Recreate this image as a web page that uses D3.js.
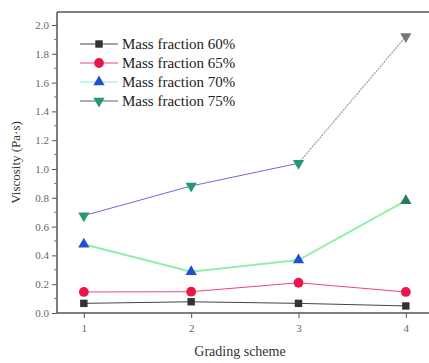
<!DOCTYPE html>
<html><head><meta charset="utf-8">
<script src="https://cdn.jsdelivr.net/npm/d3@7"></script>
<style>body{margin:0;background:#fff}svg{display:block}svg text{font-family:"Liberation Serif","Times New Roman",serif}</style>
</head><body>
<script>
const categories = [1, 2, 3, 4];
const seriesNames = ["Mass fraction 60%", "Mass fraction 65%", "Mass fraction 70%", "Mass fraction 75%"];
const mass60 = [0.067, 0.078, 0.067, 0.049];
const mass65 = [0.146, 0.148, 0.21, 0.146];
const mass70 = [0.477, 0.287, 0.368, 0.78];
const mass75 = [0.676, 0.882, 1.04, 1.92];
const yTicks = [0.0, 0.2, 0.4, 0.6, 0.8, 1.0, 1.2, 1.4, 1.6, 1.8, 2.0];
const xTicks = [1, 2, 3, 4];

(function () {
const lineColors = ["#444444", "#f0456a", "#8ff0a8", "#6a6ae0"];
const markerColors = ["#333333", "#e8174a", "#1e50d0", "#239a72"];
const legendLineColors = ["#444444", "#f0456a", "#8fe8d8", "#4a6a5a"];
const shapes = [d3.symbolSquare, d3.symbolCircle, d3.symbolTriangle, d3.symbolTriangle];

const W = 429, H = 363;
const svg = d3.select("body").append("svg").attr("width", W).attr("height", H);
const mLeft = 57, mTop = 12, mBottom = 313, mRight = 429;
const x = d3.scaleLinear().domain([0.75, 4.25]).range([mLeft, mLeft + (406 - 84) * 3.5 / 3]);
const y = d3.scaleLinear().domain([0, 2.0]).range([mBottom, 25]);

svg.append("line").attr("x1", mLeft).attr("x2", mRight).attr("y1", mTop).attr("y2", mTop).attr("stroke", "#555").attr("stroke-width", 1.5);

const yAxis = d3.axisLeft(y).tickValues(yTicks).tickFormat(d3.format(".1f")).tickSize(5).tickPadding(3);
const gy = svg.append("g").attr("transform", `translate(${mLeft},0)`).call(yAxis);
gy.attr("font-family", null);
gy.select(".domain").attr("d", `M0,${mTop}V${mBottom}`).attr("stroke", "#555").attr("stroke-width", 1.5);
gy.selectAll(".tick line").attr("stroke", "#555");
gy.selectAll("text").style("font-size", "11px").attr("fill", "#666");
svg.append("g").selectAll("line").data(d3.range(0.1, 2.0, 0.2)).join("line")
  .attr("x1", mLeft - 3).attr("x2", mLeft).attr("y1", d => y(d)).attr("y2", d => y(d)).attr("stroke", "#777");

const xAxis = d3.axisBottom(x).tickValues(xTicks).tickFormat(d3.format("d")).tickSize(5).tickPadding(6);
const gx = svg.append("g").attr("transform", `translate(0,${mBottom})`).call(xAxis);
gx.attr("font-family", null);
gx.select(".domain").attr("d", `M${mLeft},0H${mRight}`).attr("stroke", "#555").attr("stroke-width", 1.5);
gx.selectAll(".tick line").attr("stroke", "#555");
gx.selectAll("text").style("font-size", "11px").attr("fill", "#666");

svg.append("text").attr("transform", `translate(20,${(mTop + mBottom) / 2}) rotate(-90)`)
  .attr("text-anchor", "middle").style("font-size", "13px").attr("fill", "#333")
  .text("Viscosity (Pa·s)");
svg.append("text").attr("x", 240).attr("y", 356).attr("text-anchor", "middle")
  .style("font-size", "14px").attr("fill", "#333").text("Grading scheme");

const allSeries = [mass60, mass65, mass70, mass75];
const line = d3.line().x((d, i) => x(categories[i])).y(d => y(d));

function sym(shape, idx) {
  const size = idx === 1 ? 75 : 55;
  return d3.symbol().type(shape).size(size)();
}

allSeries.forEach((vals, si) => {
  if (si === 3) {
    svg.append("path").datum(vals.slice(0, 3)).attr("d", line).attr("fill", "none").attr("stroke", lineColors[si]).attr("stroke-width", 1);
    svg.append("line").attr("x1", x(categories[2])).attr("y1", y(vals[2])).attr("x2", x(categories[3])).attr("y2", y(vals[3]))
      .attr("stroke", "#999").attr("stroke-width", 1.2).attr("stroke-dasharray", "2,1");
  } else {
    svg.append("path").datum(vals).attr("d", line).attr("fill", "none").attr("stroke", lineColors[si]).attr("stroke-width", si === 2 ? 2 : 1);
  }
  vals.forEach((v, i) => {
    let c = markerColors[si];
    if (si === 2 && i === 3) c = "#2a7a5a";
    if (si === 3 && i === 3) c = "#777777";
    const rot = si === 3 ? 180 : 0;
    svg.append("path").attr("d", sym(shapes[si], si))
      .attr("transform", `translate(${x(categories[i])},${y(v)}) rotate(${rot})`)
      .attr("fill", c);
  });
});

const legY = [44, 63, 82, 101];
seriesNames.forEach((name, si) => {
  const yy = legY[si];
  svg.append("line").attr("x1", 80).attr("x2", 118).attr("y1", yy).attr("y2", yy).attr("stroke", legendLineColors[si]).attr("stroke-width", 1);
  svg.append("path").attr("d", sym(shapes[si], si))
    .attr("transform", `translate(99,${yy}) rotate(${si === 3 ? 180 : 0})`).attr("fill", markerColors[si]);
  svg.append("text").attr("x", 122).attr("y", yy + 5).style("font-size", "15px").attr("fill", "#222").text(name);
});
})();
</script>
</body></html>
